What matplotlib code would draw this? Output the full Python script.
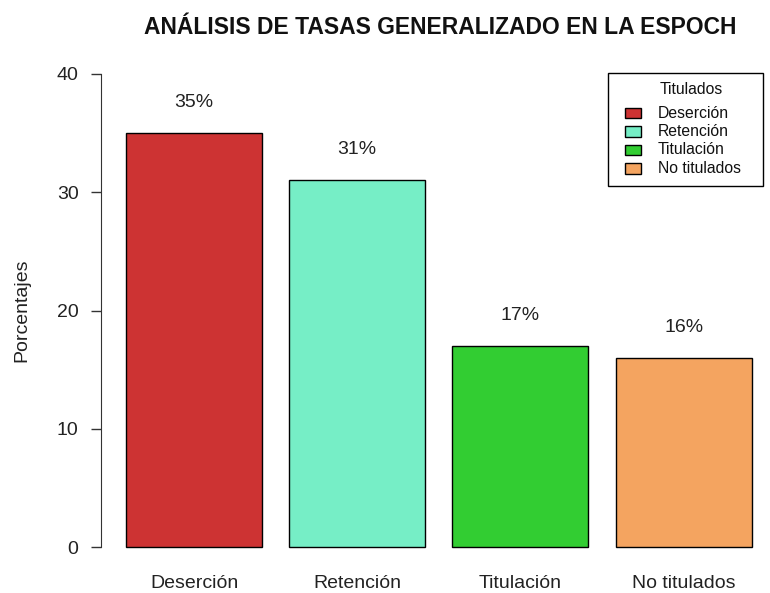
import matplotlib
matplotlib.use("Agg")
import matplotlib.pyplot as plt
from matplotlib.patches import Rectangle

categories = ["Deserción", "Retención", "Titulación", "No titulados"]
values = [35, 31, 17, 16]
labels = ["35%", "31%", "17%", "16%"]
colors = ["#CD3333", "#76EEC6", "#32CD32", "#F4A460"]
yticks = [0, 10, 20, 30, 40]
legend_title = "Titulados"

W, H = 770, 593
plt.rcParams['font.family'] = ['Liberation Sans', 'DejaVu Sans']
fig = plt.figure(figsize=(W / 100, H / 100), dpi=100)

left_px, right_px = 101, 770
top_px, bot_px = 55, 566
ax = fig.add_axes([left_px / W, 1 - bot_px / H, (right_px - left_px) / W, (bot_px - top_px) / H])

centers = [0.7 + 1.2 * i for i in range(len(categories))]
ax.bar(centers, values, width=1.0, color=colors, edgecolor="black", linewidth=1)

px_per_unit = 136
x0 = 0.016
ax.set_xlim(x0, x0 + (right_px - left_px) / px_per_unit)
ax.set_ylim(-1.6, 41.6)

for c, v, l in zip(centers, values, labels):
    ax.text(c, v + 2.6, l, ha="center", va="center", fontsize=14, color="#222222")

for s in ["top", "right", "bottom"]:
    ax.spines[s].set_visible(False)
ax.spines["left"].set_bounds(0, 40)
ax.spines["left"].set_color("#333333")
ax.set_yticks(yticks)
ax.set_yticklabels([str(t) for t in yticks])
ax.tick_params(axis="y", length=7.2, width=1, color="#333333", labelsize=14, labelcolor="#222222", pad=9)
ax.set_xticks(centers)
ax.set_xticklabels(categories)
ax.tick_params(axis="x", length=0, labelsize=14, labelcolor="#222222", pad=6.5)
ax.set_ylabel("Porcentajes", fontsize=14, color="#222222", labelpad=19)

fig.text(440 / W, 1 - 28 / H, "ANÁLISIS DE TASAS GENERALIZADO EN LA ESPOCH",
         ha="center", va="center", fontsize=16.5, fontweight="bold", color="#111111")

# legend drawn in figure pixel coordinates
def fx(x):
    return x / W

def fy(y):
    return 1 - y / H

fig.patches.append(Rectangle((fx(608), fy(186)), (763 - 608) / W, (186 - 73) / H,
                             transform=fig.transFigure, facecolor="white",
                             edgecolor="black", linewidth=1, zorder=5))
fig.text(fx(691), fy(89), legend_title, ha="center", va="center", fontsize=11.3,
         color="#111111", zorder=6)
row_y = [113, 131.5, 150, 168.5]
for c, name, yy in zip(colors, categories, row_y):
    fig.patches.append(Rectangle((fx(625), fy(yy + 5)), 16 / W, 10 / H,
                                 transform=fig.transFigure, facecolor=c,
                                 edgecolor="black", linewidth=1, zorder=6))
    fig.text(fx(658), fy(yy), name, ha="left", va="center", fontsize=11.3,
             color="#111111", zorder=6)

fig.savefig("out.png", dpi=100)
